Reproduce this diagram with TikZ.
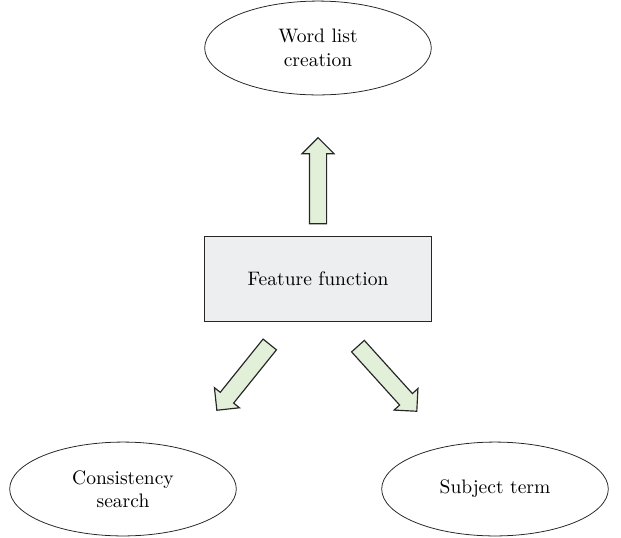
\documentclass[tikz,border=0pt]{standalone}
\usepackage{xcolor}
\usepackage{tikz}
\usetikzlibrary{shapes.geometric,shapes.arrows}

\definecolor{arrowgreen}{HTML}{E2EFD9}
\definecolor{boxgray}{HTML}{EDEEF0}

\begin{document}
\begin{tikzpicture}[
        x=0.018cm, y=-0.018cm,
        font=\normalsize,
        task/.style={draw=black!85, fill=white, ellipse, minimum width=4.08cm, minimum height=1.69cm, align=center, inner sep=0pt},
        feature/.style={draw=black!85, fill=boxgray, rectangle, minimum width=4.1cm, minimum height=1.53cm, align=center},
        blockarrow/.style={draw=black!85, fill=arrowgreen, single arrow, single arrow head extend=0.135cm, inner xsep=0pt, inner ysep=0.144cm, line width=0.6pt}
    ]

    % canvas
    \useasboundingbox (0,0) rectangle (621,537);

    % ==========================================
    % Nodes
    % ==========================================
    \node[task] (wordlist) at (318, 48) {Word list\\creation};
    \node[feature] (featfun) at (318, 279) {Feature function};
    \node[task] (consist) at (123, 489) {Consistency\\search};
    \node[task] (subject) at (495, 489) {Subject term};

    % ==========================================
    % Block arrows
    % ==========================================
    \node[blockarrow, minimum height=1.55cm, rotate=90] (arr_up) at (318, 185) {};
    \node[blockarrow, minimum height=1.52cm, rotate=231.2] (arr_left) at (246, 374) {};
    \node[blockarrow, minimum height=1.58cm, rotate=-47.9] (arr_right) at (384.5, 375.5) {};

\end{tikzpicture}
\end{document}
